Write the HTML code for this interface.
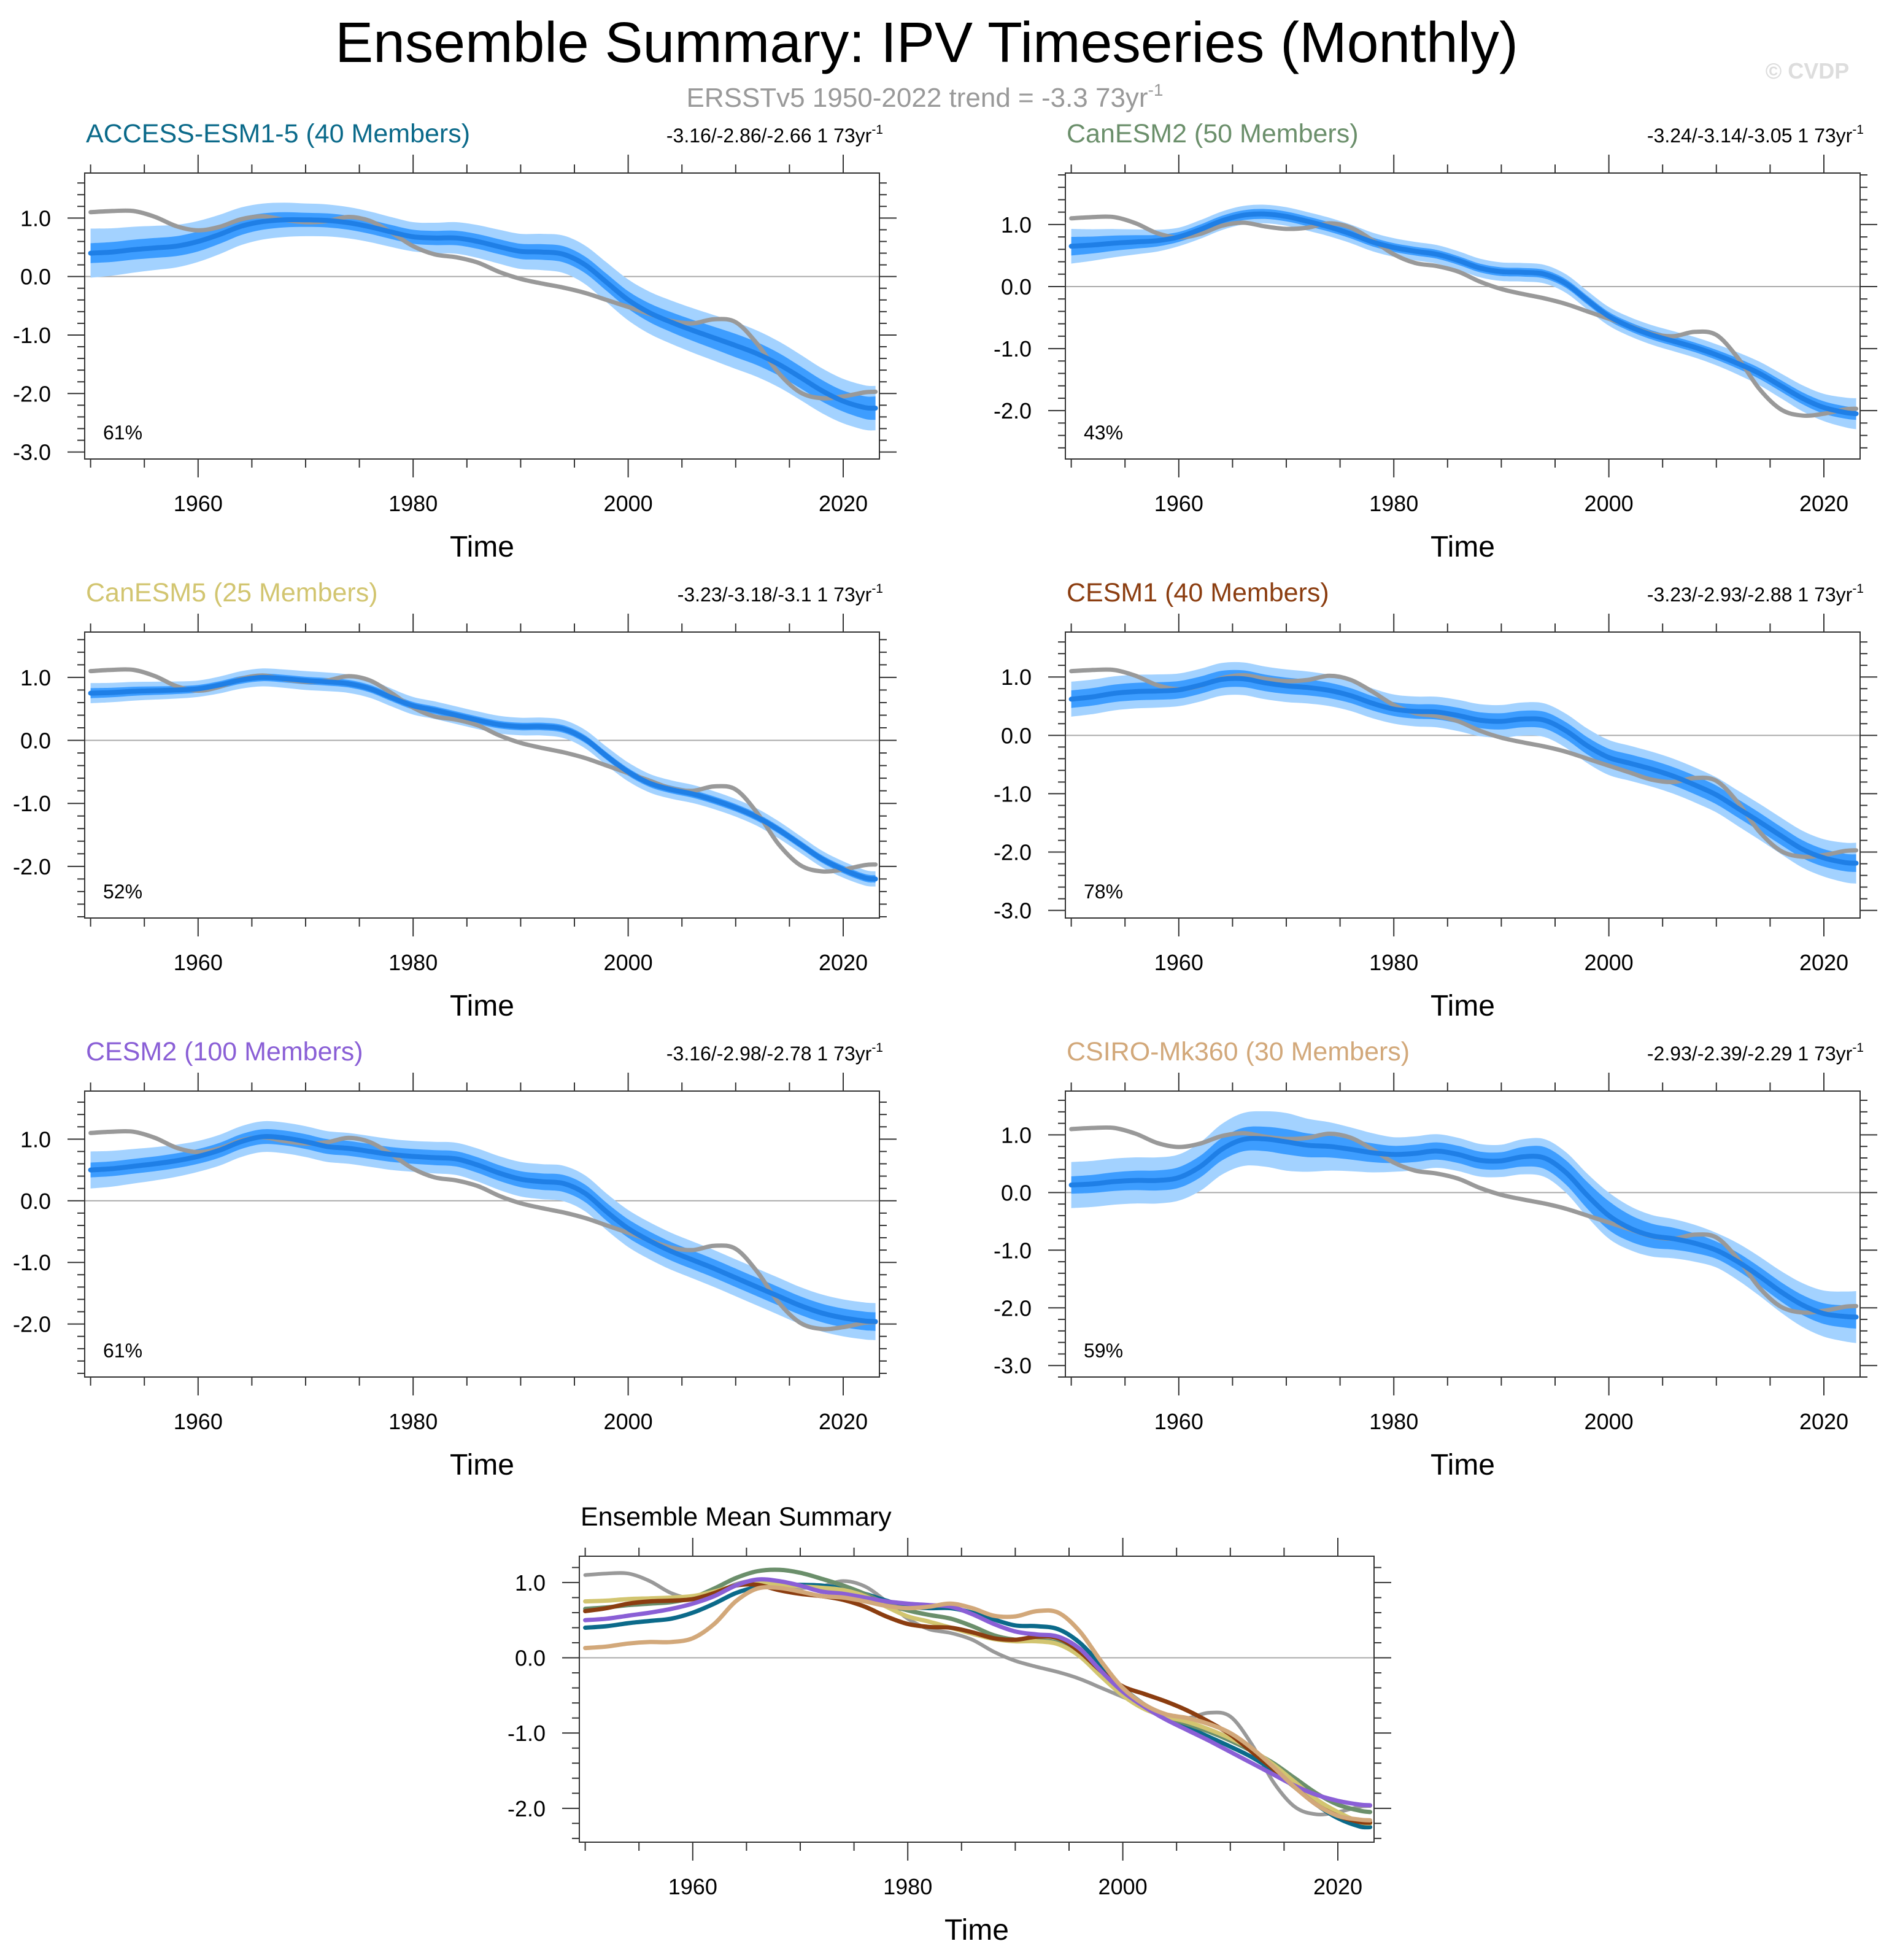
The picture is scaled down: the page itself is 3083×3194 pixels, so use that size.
<!DOCTYPE html>
<html><head><meta charset="utf-8"><title>Ensemble Summary: IPV Timeseries</title>
<style>
html,body{margin:0;padding:0;background:#fff;}
svg{display:block;font-family:"Liberation Sans",sans-serif;}
</style></head>
<body>
<svg id="chart" width="3083" height="3194" viewBox="0 0 3083 3194" xmlns="http://www.w3.org/2000/svg">
<rect width="3083" height="3194" fill="#fff"/>
<text x="1510" y="101" font-size="93" text-anchor="middle" fill="#000">Ensemble Summary: IPV Timeseries (Monthly)</text>
<text x="1507" y="174" font-size="44" text-anchor="middle" fill="#999">ERSSTv5 1950-2022 trend = -3.3 73yr<tspan font-size="28" dy="-18">-1</tspan></text>
<text x="2945" y="128" font-size="36" font-weight="bold" text-anchor="middle" fill="#ddd">© CVDP</text>
<g id="plots"></g>
</svg>
<script>
const years = [1950,1952,1954,1956,1958,1960,1962,1964,1966,1968,1970,1972,1974,1976,1978,1980,1982,1984,1986,1988,1990,1992,1994,1996,1998,2000,2002,2004,2006,2008,2010,2012,2014,2016,2018,2020,2022,2023];
const spreadYears = [1950,1960,1970,1980,1990,2000,2010,2020,2023];
const obs = [1.10,1.12,1.12,1.02,0.86,0.79,0.85,0.98,1.03,0.97,0.93,0.95,1.02,0.95,0.75,0.52,0.38,0.33,0.24,0.08,-0.04,-0.12,-0.19,-0.28,-0.40,-0.52,-0.64,-0.76,-0.80,-0.73,-0.78,-1.15,-1.65,-1.98,-2.08,-2.05,-1.98,-1.97];
const accessMean = [0.40,0.42,0.46,0.49,0.52,0.60,0.72,0.86,0.94,0.97,0.97,0.96,0.92,0.85,0.76,0.68,0.66,0.66,0.60,0.51,0.43,0.42,0.38,0.20,-0.10,-0.40,-0.62,-0.78,-0.92,-1.05,-1.18,-1.32,-1.50,-1.72,-1.95,-2.13,-2.24,-2.25];
const accessInner = [0.17,0.17,0.12,0.12,0.13,0.15,0.20,0.18,0.20];
const accessOuter = [0.42,0.35,0.28,0.25,0.30,0.35,0.40,0.38,0.38];
const canesm2Mean = [0.65,0.67,0.70,0.72,0.74,0.80,0.92,1.06,1.15,1.17,1.13,1.05,0.96,0.85,0.72,0.63,0.57,0.52,0.42,0.30,0.24,0.23,0.20,0.05,-0.22,-0.48,-0.65,-0.78,-0.88,-0.98,-1.10,-1.24,-1.40,-1.60,-1.80,-1.95,-2.03,-2.05];
const canesm2Inner = [0.15,0.08,0.08,0.07,0.07,0.07,0.08,0.10,0.10];
const canesm2Outer = [0.28,0.15,0.15,0.15,0.15,0.15,0.17,0.22,0.25];
const canesm5Mean = [0.75,0.76,0.78,0.79,0.80,0.82,0.88,0.96,1.00,0.98,0.95,0.93,0.90,0.82,0.68,0.55,0.48,0.40,0.32,0.25,0.22,0.22,0.18,0.02,-0.25,-0.50,-0.68,-0.78,-0.85,-0.95,-1.07,-1.22,-1.42,-1.65,-1.88,-2.05,-2.18,-2.20];
const canesm5Inner = [0.08,0.06,0.06,0.06,0.06,0.06,0.06,0.06,0.06];
const canesm5Outer = [0.16,0.13,0.15,0.14,0.14,0.15,0.14,0.13,0.12];
const cesm1Mean = [0.62,0.66,0.72,0.75,0.76,0.78,0.86,0.96,0.97,0.90,0.85,0.82,0.77,0.68,0.55,0.45,0.41,0.40,0.34,0.26,0.24,0.28,0.26,0.08,-0.18,-0.38,-0.48,-0.58,-0.70,-0.85,-1.02,-1.25,-1.48,-1.72,-1.95,-2.10,-2.18,-2.19];
const cesm1Inner = [0.15,0.15,0.14,0.12,0.14,0.15,0.16,0.15,0.15];
const cesm1Outer = [0.30,0.28,0.28,0.25,0.28,0.30,0.30,0.32,0.35];
const cesm2Mean = [0.50,0.52,0.56,0.60,0.65,0.72,0.82,0.96,1.04,1.02,0.96,0.88,0.85,0.80,0.75,0.72,0.70,0.68,0.58,0.45,0.35,0.31,0.28,0.12,-0.18,-0.45,-0.65,-0.82,-0.96,-1.10,-1.25,-1.40,-1.55,-1.70,-1.82,-1.90,-1.95,-1.96];
const cesm2Inner = [0.12,0.12,0.12,0.12,0.13,0.15,0.15,0.15,0.15];
const cesm2Outer = [0.30,0.25,0.25,0.25,0.28,0.30,0.30,0.30,0.30];
const csiroMean = [0.13,0.15,0.19,0.21,0.21,0.26,0.45,0.75,0.92,0.93,0.88,0.82,0.80,0.75,0.69,0.66,0.68,0.72,0.66,0.56,0.55,0.62,0.60,0.35,-0.05,-0.40,-0.62,-0.75,-0.80,-0.88,-1.00,-1.20,-1.45,-1.72,-1.95,-2.10,-2.15,-2.16];
const csiroInner = [0.15,0.18,0.22,0.15,0.15,0.25,0.15,0.18,0.20];
const csiroOuter = [0.40,0.40,0.50,0.30,0.28,0.40,0.30,0.40,0.45];

const modelNames = ["ACCESS-ESM1-5 (40 Members)","CanESM2 (50 Members)","CanESM5 (25 Members)","CESM1 (40 Members)","CESM2 (100 Members)","CSIRO-Mk360 (30 Members)"];
const trendLabels = ["-3.16/-2.86/-2.66 1 73yr","-3.24/-3.14/-3.05 1 73yr","-3.23/-3.18/-3.1 1 73yr","-3.23/-2.93/-2.88 1 73yr","-3.16/-2.98/-2.78 1 73yr","-2.93/-2.39/-2.29 1 73yr"];
const pctLabels = ["61%","43%","52%","78%","61%","59%"];
const yTickLabels = [["1.0","0.0","-1.0","-2.0","-3.0"],["1.0","0.0","-1.0","-2.0"],["1.0","0.0","-1.0","-2.0"],["1.0","0.0","-1.0","-2.0","-3.0"],["1.0","0.0","-1.0","-2.0"],["1.0","0.0","-1.0","-2.0","-3.0"]];
const xTickLabels = ["1960","1980","2000","2020"];
const means = [accessMean,canesm2Mean,canesm5Mean,cesm1Mean,cesm2Mean,csiroMean];
const inners = [accessInner,canesm2Inner,canesm5Inner,cesm1Inner,cesm2Inner,csiroInner];
const outers = [accessOuter,canesm2Outer,canesm5Outer,cesm1Outer,cesm2Outer,csiroOuter];
const yRanges = [[1.77,-3.12],[1.83,-2.78],[1.72,-2.82],[1.77,-3.13],[1.78,-2.86],[1.76,-3.20]];
const modelColors = ["#0b6a8a","#6b8f6b","#d2c570","#8b3d10","#8a5fd6","#d2a87a"];

const NS="http://www.w3.org/2000/svg";
const root=document.getElementById('plots');
function mk(tag,attrs,parent){const e=document.createElementNS(NS,tag);for(const k in attrs)e.setAttribute(k,attrs[k]);(parent||root).appendChild(e);return e;}
function smooth(pts){let d="M"+pts[0][0].toFixed(1)+","+pts[0][1].toFixed(1);
 for(let i=0;i<pts.length-1;i++){const p0=pts[Math.max(0,i-1)],p1=pts[i],p2=pts[i+1],p3=pts[Math.min(pts.length-1,i+2)];
  const c1=[p1[0]+(p2[0]-p0[0])/6,p1[1]+(p2[1]-p0[1])/6],c2=[p2[0]-(p3[0]-p1[0])/6,p2[1]-(p3[1]-p1[1])/6];
  d+=" C"+c1[0].toFixed(1)+","+c1[1].toFixed(1)+" "+c2[0].toFixed(1)+","+c2[1].toFixed(1)+" "+p2[0].toFixed(1)+","+p2[1].toFixed(1);}
 return d;}
function interpSpread(arr,yr){for(let i=0;i<spreadYears.length-1;i++){if(yr<=spreadYears[i+1]){const t=(yr-spreadYears[i])/(spreadYears[i+1]-spreadYears[i]);return arr[i]+t*(arr[i+1]-arr[i]);}}return arr[arr.length-1];}

function panel(L,T,W,H,yTop,yBot,labels,title,titleColor,trend,pct,drawFn,name){
 const g=mk('g',{});
 
 
 const x0=L+9.6, pxYr=17.52;
 const X=yr=>x0+(yr-1950)*pxYr;
 const Y=v=>T+(yTop-v)/(yTop-yBot)*H;
 const ticks=mk('g',{stroke:'#333','stroke-width':2},g);
 
 
 for(let yr=1950;yr<=2020;yr+=5){const major=(yr%20===0);const len=major?30:14;
  mk('line',{x1:X(yr),x2:X(yr),y1:T,y2:T-len},ticks);mk('line',{x1:X(yr),x2:X(yr),y1:T+H,y2:T+H+len},ticks);}
 const lo=Math.ceil(yBot*5-1e-6),hi=Math.floor(yTop*5+1e-6);
 for(let k=lo;k<=hi;k++){const v=k/5;const major=(k%5===0);const len=major?28:12;const yy=Y(v);
  mk('line',{x1:L,x2:L-len,y1:yy,y2:yy},ticks);mk('line',{x1:L+W,x2:L+W+len,y1:yy,y2:yy},ticks);}
 const z=mk('line',{x1:L,x2:L+W,y1:Y(0),y2:Y(0),stroke:'#aaa','stroke-width':2},g);
 
 
 drawFn(g,X,Y);
 const fr=mk('rect',{x:L,y:T,width:W,height:H,fill:'none',stroke:'#333','stroke-width':2},g);
 
 
 labels.forEach(s=>{const v=parseFloat(s);const t=mk('text',{x:L-55,y:Y(v)+13,'font-size':36,'text-anchor':'end',fill:'#000'},g);t.textContent=s;
  
  });
 xTickLabels.forEach(s=>{const t=mk('text',{x:X(+s),y:T+H+85,'font-size':36,'text-anchor':'middle',fill:'#000'},g);t.textContent=s;
  
  });
 const xt=mk('text',{x:L+W/2,y:T+H+159,'font-size':48,'text-anchor':'middle',fill:'#000'},g);xt.textContent='Time';
 
 
 const tt=mk('text',{x:L+2,y:T-50,'font-size':43,fill:titleColor},g);tt.textContent=title;
 
 
 if(trend){const tr=mk('text',{x:L+W+6,y:T-50,'font-size':32,'text-anchor':'end',fill:'#000'},g);tr.textContent=trend;
  const sp=mk('tspan',{'font-size':21,dy:-14},tr);sp.textContent='-1';
  
  }
 if(pct){const pt=mk('text',{x:L+30,y:T+H-32,'font-size':32,fill:'#000'},g);pt.textContent=pct;
  
  }
}

function band(g,X,Y,mean,spread,color,name){
 const up=years.map((yr,i)=>[X(yr),Y(mean[i]+interpSpread(spread,yr))]);
 const dn=years.map((yr,i)=>[X(yr),Y(mean[i]-interpSpread(spread,yr))]).reverse();
 const d=smooth(up)+" L"+smooth(dn).slice(1)+" Z";
 const p=mk('path',{d:d,fill:color,stroke:'none'},g);
 
 
}
function line(g,X,Y,vals,color,w,name){
 const p=mk('path',{d:smooth(years.map((yr,i)=>[X(yr),Y(vals[i])])),fill:'none',stroke:color,'stroke-width':w,'stroke-linecap':'round','stroke-linejoin':'round'},g);
 
 
}

const colL=[138,1736], rowT=[282,1030,1778];
for(let i=0;i<6;i++){
 const L=colL[i%2],T=rowT[Math.floor(i/2)];
 panel(L,T,1295,466,yRanges[i][0],yRanges[i][1],yTickLabels[i],modelNames[i],modelColors[i],trendLabels[i],pctLabels[i],(g,X,Y)=>{
  band(g,X,Y,means[i],outers[i],'#a3d2ff','outer-spread-band');
  band(g,X,Y,means[i],inners[i],'#3d9dff','inner-spread-band');
  line(g,X,Y,obs,'#999',7,'observed-line');
  line(g,X,Y,means[i],'#1f7fe6',8,'ensemble-mean-line');
 },'panel-'+(i+1));
}
panel(944,2536,1295,466,1.35,-2.45,["1.0","0.0","-1.0","-2.0"],"Ensemble Mean Summary","#000",null,null,(g,X,Y)=>{
 line(g,X,Y,obs,'#999',6,'observed-line');
 for(let i=0;i<6;i++) line(g,X,Y,means[i],modelColors[i],7,'summary-mean-line-'+(i+1));
},'ensemble-mean-summary');
</script>
</body></html>
